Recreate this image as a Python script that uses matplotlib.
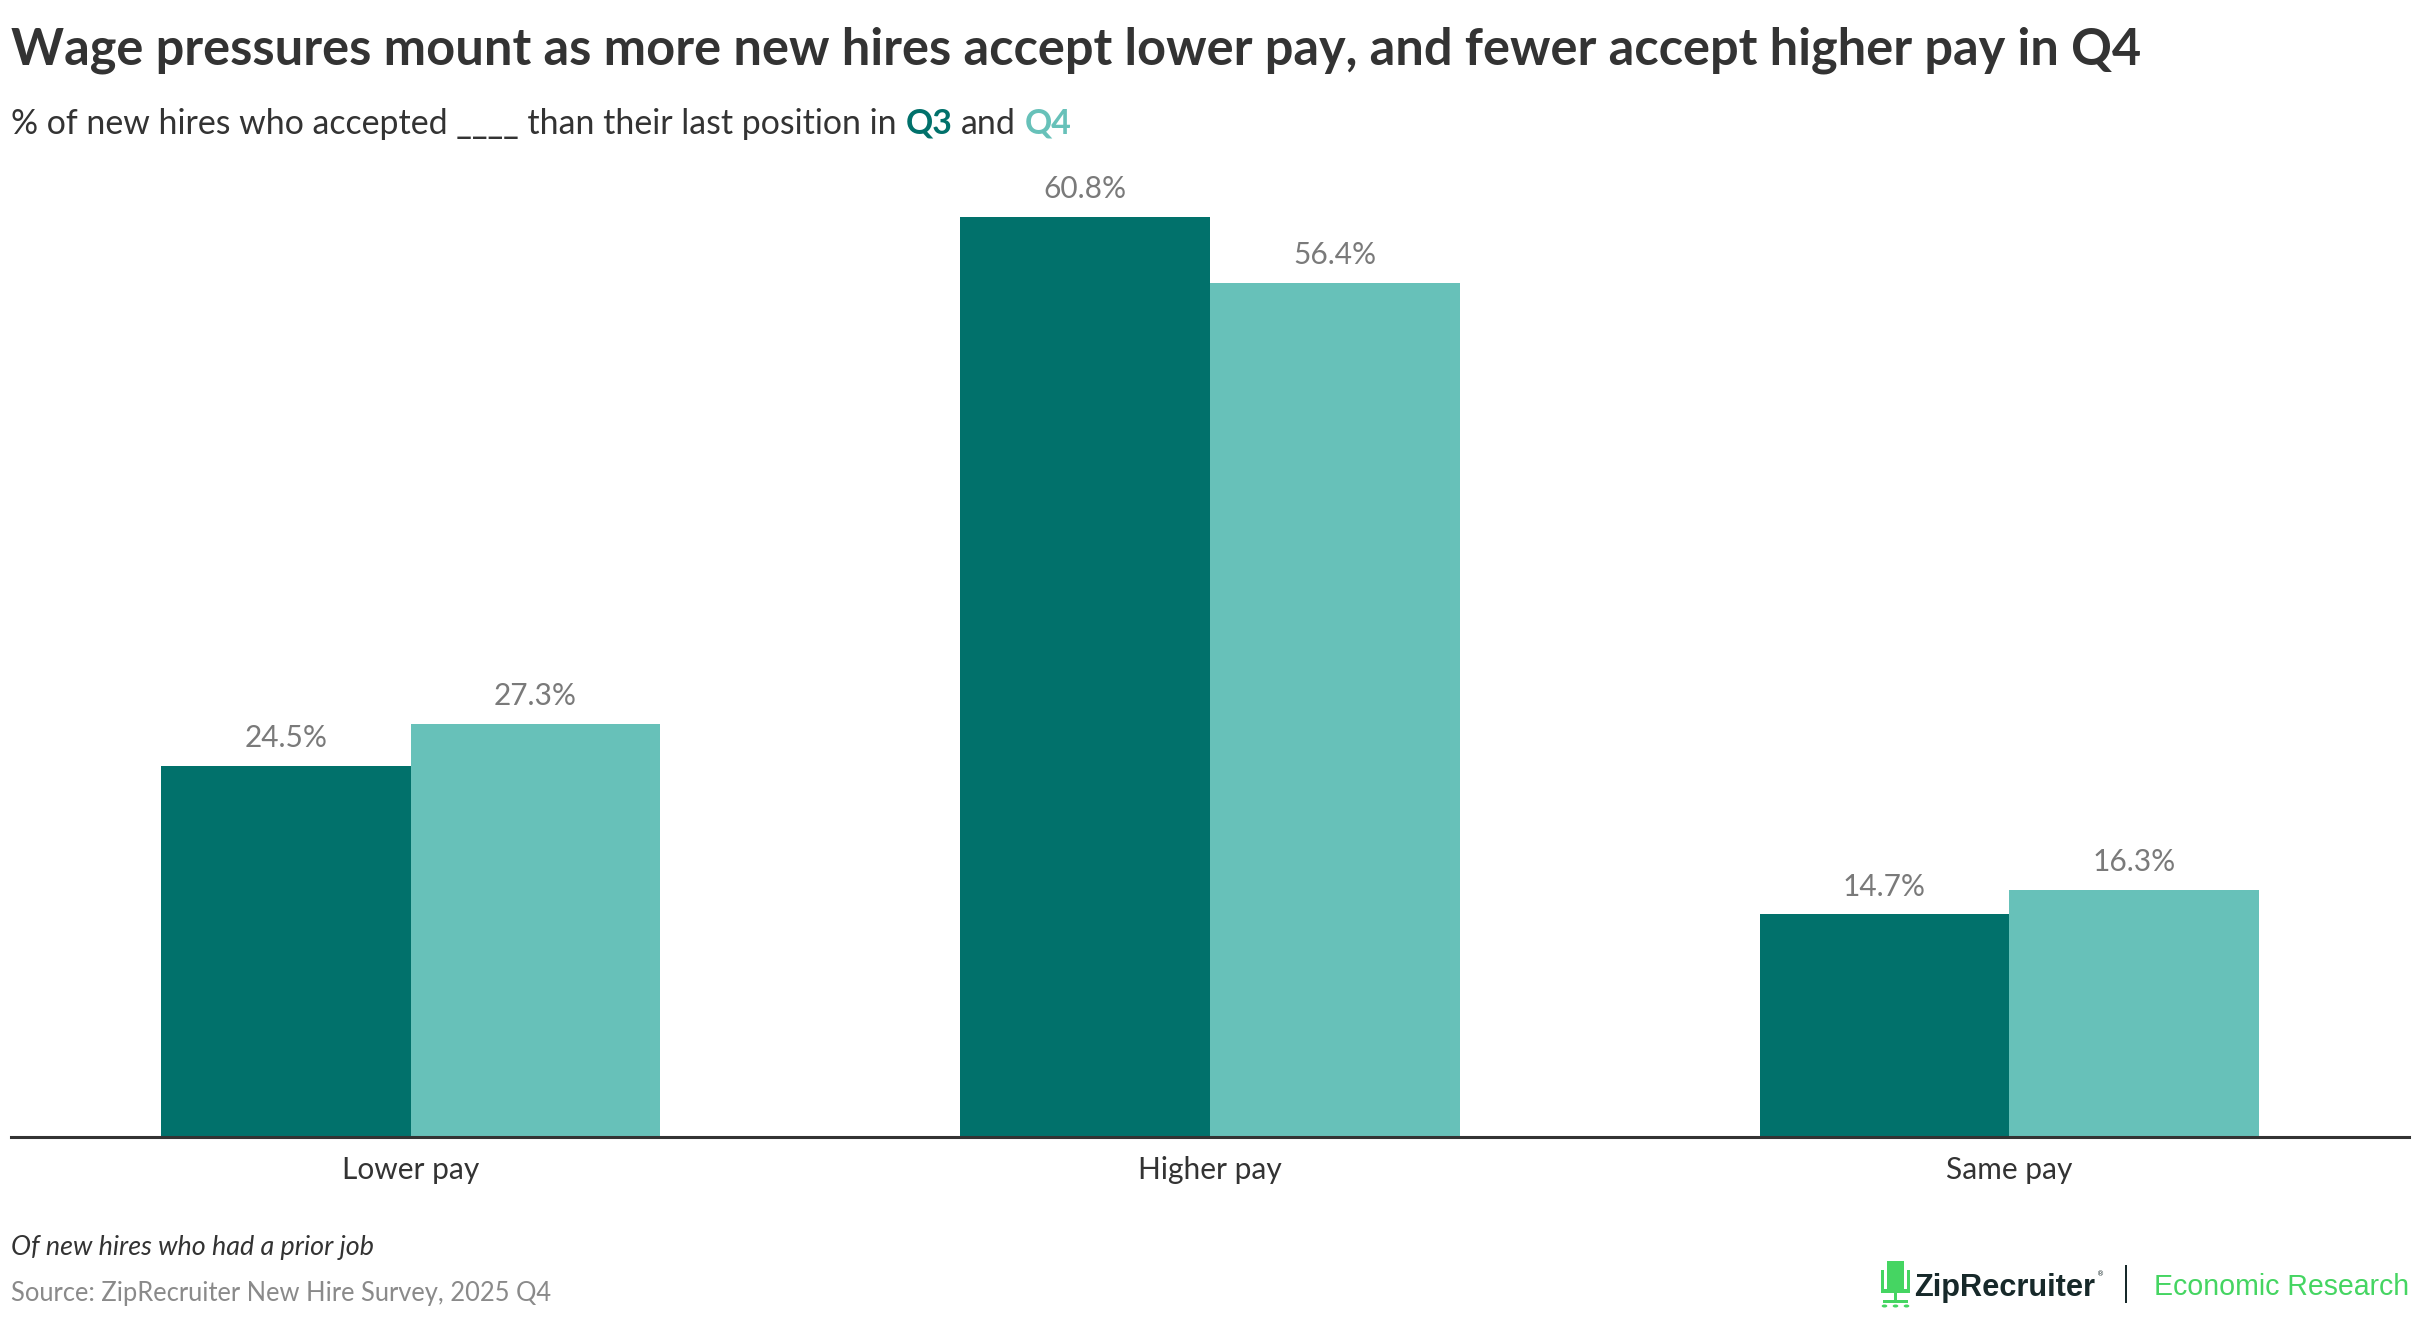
import numpy as np
import matplotlib
matplotlib.use("Agg")
import matplotlib.pyplot as plt
from matplotlib.patches import Rectangle, Circle

categories = ["Lower pay", "Higher pay", "Same pay"]
series_names = ["Q3", "Q4"]
q3_values = [24.5, 60.8, 14.7]
q4_values = [27.3, 56.4, 16.3]

title = "Wage pressures mount as more new hires accept lower pay, and fewer accept higher pay in Q4"
subtitle_main = "% of new hires who accepted ____ than their last position in"
footnote = "Of new hires who had a prior job"
source = "Source: ZipRecruiter New Hire Survey, 2025 Q4"

C_Q3 = "#01716B"
C_Q4 = "#67C1B9"
DARK = "#333333"
GREY = "#7A7A7A"
GREEN = "#45D562"

W, H = 2420, 1320
DPI = 100
FONT = "Lato"
fig = plt.figure(figsize=(W / DPI, H / DPI), dpi=DPI)
fig.patch.set_facecolor("white")
renderer = fig.canvas.get_renderer()


def fx(px):
    return px / W


def fy(py):
    return 1 - py / H


# ---- axes
ax = fig.add_axes([fx(11), fy(1137), fx(2409) - fx(11), fy(162) - fy(1137)])
x = np.arange(len(categories))
bw = 0.3125
b3 = ax.bar(x - bw / 2, q3_values, bw, color=C_Q3, label=series_names[0])
b4 = ax.bar(x + bw / 2, q4_values, bw, color=C_Q4, label=series_names[1])
ax.set_xlim(-0.5, len(categories) - 0.5)
ax.set_ylim(0, 64.4)
for s in ["left", "right", "top"]:
    ax.spines[s].set_visible(False)
ax.spines["bottom"].set_color(DARK)
ax.spines["bottom"].set_linewidth(2.2)
ax.set_yticks([])
ax.set_xticks(x)
ax.set_xticklabels(categories, fontfamily=FONT, fontsize=21.5, color=DARK)
ax.tick_params(axis="x", length=0, pad=14)

for bars, vals in ((b3, q3_values), (b4, q4_values)):
    for rect, v in zip(bars, vals):
        ax.annotate(f"{v:.1f}%", (rect.get_x() + rect.get_width() / 2, v),
                    xytext=(0, 13.5), textcoords="offset points",
                    ha="center", va="baseline", fontsize=21.5,
                    fontfamily=FONT, color=GREY)


def put(x_px, y_px, s, size, target_w=None, **kw):
    t = fig.text(fx(x_px), fy(y_px), s, fontsize=size, va="baseline",
                 ha="left", **kw)
    if target_w:
        w = t.get_window_extent(renderer).width
        t.set_fontsize(size * target_w / w)
    return t


put(11, 65, title, 30, target_w=2127, fontfamily=FONT, fontweight="bold",
    color=DARK)

# ---- rich subtitle
pieces = [(subtitle_main, "normal", DARK), ("Q3", "bold", C_Q3),
          ("and", "normal", DARK), ("Q4", "bold", C_Q4)]


def measure(s, size, weight):
    t = fig.text(0, 0, s, fontsize=size, fontfamily=FONT, fontweight=weight)
    w = t.get_window_extent(renderer).width
    t.remove()
    return w


s0 = 20
sp0 = measure("a a", s0, "normal") - measure("aa", s0, "normal")
tot = sum(measure(p, s0, wt) for p, wt, _ in pieces) + sp0 * (len(pieces) - 1)
size = s0 * 1062 / tot
sp = sp0 * size / s0
xc = 11
for p, wt, c in pieces:
    t = put(xc, 134, p, size, fontfamily=FONT, fontweight=wt, color=c)
    xc += t.get_window_extent(renderer).width + sp

# ---- footer
put(11, 1255, footnote, 18, fontfamily=FONT, fontstyle="italic", color=DARK,
    target_w=364)
put(11, 1301, source, 18, fontfamily=FONT, color="#8A8A8A", target_w=540)

# ---- logo
def rect(x0, y0, x1, y1, color):
    fig.patches.append(Rectangle((fx(x0), fy(y1)), fx(x1) - fx(x0),
                                 fy(y0) - fy(y1), transform=fig.transFigure,
                                 color=color, lw=0))


rect(1887, 1261, 1904, 1289, GREEN)     # back
rect(1881, 1270, 1884, 1292, GREEN)     # arm left
rect(1907, 1270, 1910, 1292, GREEN)     # arm right
rect(1881, 1289, 1910, 1293, GREEN)     # seat
rect(1894, 1293, 1897, 1301, GREEN)     # stem
rect(1883, 1300, 1908, 1303, GREEN)     # base
for cx in (1884.5, 1906.5, 1895.5):
    fig.patches.append(Circle((fx(cx), fy(1306)), 2.8 / W,
                              transform=fig.transFigure, color=GREEN, lw=0))

put(1914, 1296, "ZipRecruiter", 21, target_w=181, fontfamily="Liberation Sans",
    fontweight="bold", color="#17292A")
fig.text(fx(2097), fy(1276), "®", fontsize=5, color="#17292A",
         fontfamily="DejaVu Sans", va="baseline")
rect(2124.5, 1265, 2127, 1303, "#17292A")
put(2154, 1295, "Economic Research", 20, target_w=255,
    fontfamily="Liberation Sans", color=GREEN)

fig.savefig("out.png", dpi=DPI, facecolor="white")
